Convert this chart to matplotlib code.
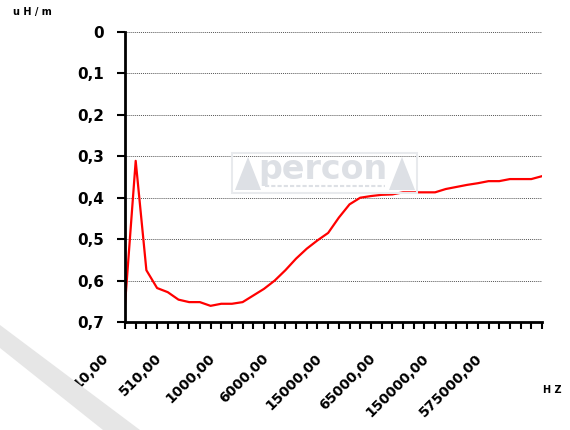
import matplotlib
matplotlib.use("Agg")
import matplotlib.pyplot as plt
import matplotlib.transforms as mtransforms
from matplotlib.patches import Polygon, Rectangle
from matplotlib.lines import Line2D

# inductance per metre, one value per frequency category (40 categories)
values = [0.658, 0.311, 0.575, 0.618, 0.628, 0.646, 0.652, 0.652, 0.661, 0.656,
          0.656, 0.652, 0.636, 0.620, 0.600, 0.575, 0.547, 0.523, 0.503, 0.485,
          0.448, 0.416, 0.400, 0.396, 0.393, 0.392, 0.387, 0.387, 0.387, 0.387,
          0.379, 0.374, 0.369, 0.365, 0.360, 0.360, 0.355, 0.355, 0.355, 0.348]
# only every 5th category is labelled
freq_labels = ["10,00", "510,00", "1000,00", "6000,00", "15000,00",
               "65000,00", "150000,00", "575000,00"]
y_ticks = [0, 0.1, 0.2, 0.3, 0.4, 0.5, 0.6, 0.7]

W, H = 570, 430
fig = plt.figure(figsize=(W / 100, H / 100), dpi=100)

def fx(px):
    return px / W

def fy(py):
    return 1 - py / H

# grey diagonal band in the lower left corner
fig.patches.append(Polygon([(fx(0), fy(325)), (fx(140), fy(430)), (fx(103), fy(430)), (fx(0), fy(348))],
                           closed=True, transform=fig.transFigure, facecolor="#e6e6e6",
                           edgecolor="none", zorder=0))

ax = fig.add_axes([fx(125), fy(322), fx(542) - fx(125), fy(32) - fy(322)])
ax.set_facecolor("none")

x = list(range(len(values)))
ax.plot(x, values, color="#ff0000", lw=1.6, zorder=3)

ax.set_xlim(0, len(values) - 1)
ax.set_ylim(0.7, 0)

ax.set_yticks(y_ticks)
ax.set_yticklabels(["0" if v == 0 else ("%.1f" % v).replace(".", ",") for v in y_ticks])
ax.set_xticks(x)
lbls = []
for i in x:
    lbls.append(freq_labels[i // 5] if i % 5 == 0 and i // 5 < len(freq_labels) else "")
ax.set_xticklabels(lbls)

for t in ax.get_yticklabels():
    t.set_fontfamily("DejaVu Sans")
    t.set_fontweight("bold")
    t.set_fontsize(11)
ax.tick_params(axis="y", direction="out", length=6, width=1.5, pad=9)
ax.tick_params(axis="x", direction="out", length=5, width=1.5, pad=16)

offset = mtransforms.ScaledTranslation(-24 / 100, 0, fig.dpi_scale_trans)
for t in ax.get_xticklabels():
    t.set_fontfamily("DejaVu Sans")
    t.set_fontweight("bold")
    t.set_fontsize(10)
    t.set_rotation(45)
    t.set_ha("right")
    t.set_va("top")
    t.set_rotation_mode("anchor")
    t.set_transform(t.get_transform() + offset)

ax.grid(axis="y", color="#555555", linestyle=(0, (1, 1)), lw=0.7)
ax.grid(axis="x", visible=False)
for s in ["top", "right"]:
    ax.spines[s].set_visible(False)
ax.spines["left"].set_linewidth(2)
ax.spines["bottom"].set_linewidth(2)
ax.spines["left"].set_zorder(4)
ax.spines["bottom"].set_zorder(4)

# watermark logo
wm = "#dde0e5"
fig.patches.append(Rectangle((fx(232), fy(193)), fx(417) - fx(232), fy(153) - fy(193),
                             transform=fig.transFigure, facecolor="none", edgecolor="#e8eaed",
                             lw=1.5, zorder=1))
fig.patches.append(Polygon([(fx(235), fy(190)), (fx(248), fy(157)), (fx(261), fy(190))],
                           closed=True, transform=fig.transFigure, facecolor=wm,
                           edgecolor="none", zorder=1))
fig.patches.append(Polygon([(fx(389), fy(190)), (fx(402), fy(157)), (fx(415), fy(190))],
                           closed=True, transform=fig.transFigure, facecolor=wm,
                           edgecolor="none", zorder=1))
fig.text(fx(323), fy(170), "percon", fontsize=24, fontweight="bold", color=wm,
         ha="center", va="center", family="DejaVu Sans", zorder=1)
fig.lines.append(Line2D([fx(265), fx(385)], [fy(186), fy(186)], transform=fig.transFigure,
                        color=wm, lw=1.5, linestyle=(0, (2, 1)), zorder=1))

fig.text(fx(32), fy(12.5), "u H / m", fontsize=7, fontweight="bold", ha="center", va="center",
         family="DejaVu Sans")
fig.text(fx(552), fy(390), "H Z", fontsize=7, fontweight="bold", ha="center", va="center",
         family="DejaVu Sans")

fig.savefig("out.png", dpi=100)
